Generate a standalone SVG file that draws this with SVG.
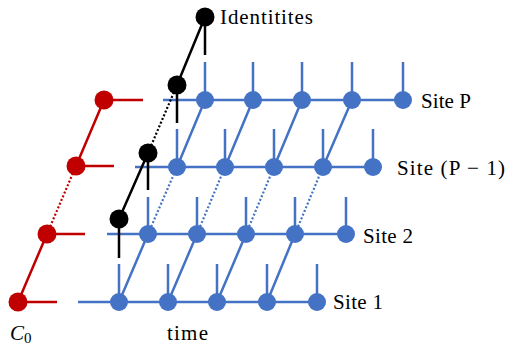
<svg xmlns="http://www.w3.org/2000/svg" width="516" height="345" viewBox="0 0 516 345">
<style>
.b{fill:#4472C4}
.r{fill:#C00000}
.k{fill:#000}
.lb{stroke:#4472C4;stroke-width:2.5;fill:none}
.lr{stroke:#C00000;stroke-width:2.5;fill:none}
.lk{stroke:#000;stroke-width:2.5;fill:none}
.dot{stroke-dasharray:2 2;stroke-width:2.2}
text{font-family:"Liberation Serif","DejaVu Serif",serif;font-size:21px;fill:#000}
</style>
<rect width="516" height="345" fill="#fff"/>
<g id="connectors">
<path class="lb" d="M163 100H403M135 167H373M107 234H346M78 302H317"/>
<path class="lb" d="M205 62V100M253 62V100M302 62V100M352 62V100M403 62V100"/>
<path class="lb" d="M177 129V167M225 129V167M274 129V167M323 129V167M373 129V167"/>
<path class="lb" d="M148 197V234M197 197V234M246 197V234M295 197V234M346 197V234"/>
<path class="lb" d="M119 264V302M168 264V302M217 264V302M267 264V302M317 264V302"/>
<path class="lb" d="M119 302L148 234M168 302L197 234M217 302L246 234M267 302L295 234"/>
<path class="lb dot" d="M148 234L177 167M197 234L225 167M246 234L274 167M295 234L323 167"/>
<path class="lb" d="M177 167L205 100M225 167L253 100M274 167L302 100M323 167L352 100"/>
<path class="lr" d="M18 302H57M47 234H85M76 166H114M104 100H143"/>
<path class="lr" d="M18 302L47 234M76 166L104 100"/>
<path class="lr dot" d="M47 234L76 166"/>
<path class="lk" d="M205 17V55M177 85V123M148 153V190M119 219V258"/>
<path class="lk" d="M119 219L148 153M177 85L205 17"/>
<path class="lk dot" d="M148 153L177 85"/>
</g>
<g id="siteP">
<circle class="b" cx="205" cy="100" r="9"/><circle class="b" cx="253" cy="100" r="9"/><circle class="b" cx="302" cy="100" r="9"/><circle class="b" cx="352" cy="100" r="9"/><circle class="b" cx="403" cy="100" r="9"/>
</g>
<g id="siteP1">
<circle class="b" cx="177" cy="167" r="9"/><circle class="b" cx="225" cy="167" r="9"/><circle class="b" cx="274" cy="167" r="9"/><circle class="b" cx="323" cy="167" r="9"/><circle class="b" cx="373" cy="167" r="9"/>
</g>
<g id="site2">
<circle class="b" cx="148" cy="234" r="9"/><circle class="b" cx="197" cy="234" r="9"/><circle class="b" cx="246" cy="234" r="9"/><circle class="b" cx="295" cy="234" r="9"/><circle class="b" cx="346" cy="234" r="9"/>
</g>
<g id="site1">
<circle class="b" cx="119" cy="302" r="9"/><circle class="b" cx="168" cy="302" r="9"/><circle class="b" cx="217" cy="302" r="9"/><circle class="b" cx="267" cy="302" r="9"/><circle class="b" cx="317" cy="302" r="9"/>
</g>
<g id="c0nodes">
<circle class="r" cx="18" cy="302" r="9.5"/><circle class="r" cx="47" cy="234" r="9.5"/><circle class="r" cx="76" cy="166" r="9.5"/><circle class="r" cx="104" cy="100" r="9.5"/>
</g>
<g id="identities">
<circle class="k" cx="205" cy="17" r="9.5"/><circle class="k" cx="177" cy="85" r="9.5"/><circle class="k" cx="148" cy="153" r="9.5"/><circle class="k" cx="119" cy="219" r="9.5"/>
</g>
<g id="labels">
<text x="220" y="24" textLength="93" lengthAdjust="spacing">Identitites</text>
<text x="421" y="108" textLength="50" lengthAdjust="spacing">Site P</text>
<text x="397" y="175" textLength="108" lengthAdjust="spacing">Site (P − 1)</text>
<text x="363" y="243" textLength="50" lengthAdjust="spacing">Site 2</text>
<text x="333" y="309" textLength="50" lengthAdjust="spacing">Site 1</text>
<text x="167" y="340" textLength="41" lengthAdjust="spacing">time</text>
<text x="10" y="340" font-style="italic">C<tspan font-style="normal" font-size="15" dy="3">0</tspan></text>
</g>
</svg>
